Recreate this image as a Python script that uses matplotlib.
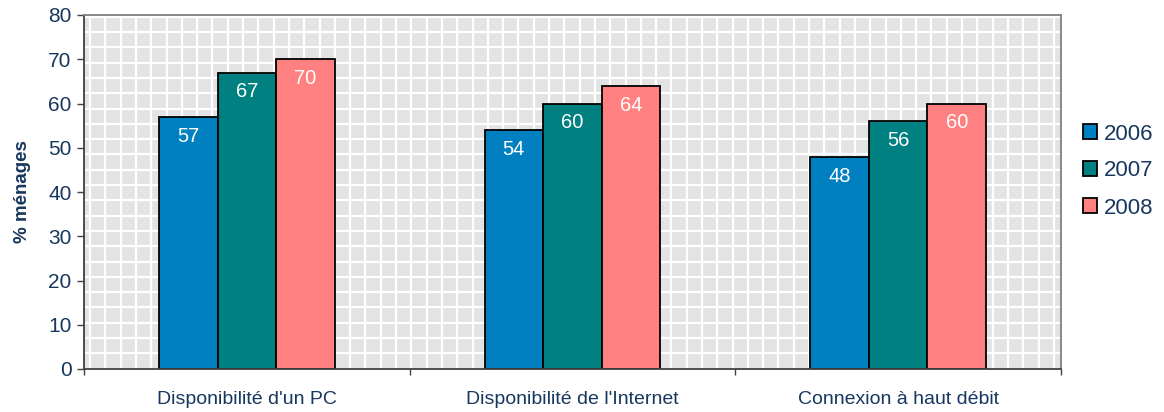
import matplotlib
matplotlib.use("Agg")
import matplotlib.pyplot as plt
import numpy as np
from matplotlib.collections import LineCollection
from matplotlib.patches import Patch

categories = ["Disponibilité d'un PC", "Disponibilité de l'Internet", "Connexion à haut débit"]
years = ["2006", "2007", "2008"]
values_2006 = [57, 54, 48]
values_2007 = [67, 60, 56]
values_2008 = [70, 64, 60]
series = [values_2006, values_2007, values_2008]
colors = ["#0080C0", "#008080", "#FF8080"]
ytick_values = [0, 10, 20, 30, 40, 50, 60, 70, 80]

text_color = "#17375E"
plt.rcParams['font.family'] = ['Liberation Sans', 'DejaVu Sans']

W, H = 1164, 412
fig = plt.figure(figsize=(W / 100, H / 100), dpi=100)
ax_l, ax_r, ax_t, ax_b = 84, 1061, 15, 369
ax = fig.add_axes([ax_l / W, 1 - ax_b / H, (ax_r - ax_l) / W, (ax_b - ax_t) / H])
ax.set_facecolor("#E3E3E3")

# pattern grid (square cells in pixel space)
axw, axh = ax_r - ax_l, ax_b - ax_t
cell = 15.3
segs = []
x = 6.0
while x < axw:
    segs.append([(x / axw, 0), (x / axw, 1)])
    x += cell
y = 1.7
while y < axh:
    segs.append([(0, 1 - y / axh), (1, 1 - y / axh)])
    y += cell
lc = LineCollection(segs, colors="white", linewidths=1.6, transform=ax.transAxes, zorder=0.5)
ax.add_collection(lc, autolim=False)

xpos = np.arange(len(categories))
bw = 0.18
for i, (vals, col) in enumerate(zip(series, colors)):
    offs = (i - 1) * bw
    ax.bar(xpos + offs, vals, width=bw, color=col, edgecolor="black", linewidth=1.3, zorder=2, label=years[i])
    for xx, v in zip(xpos + offs, vals):
        ax.annotate(str(v), (xx, v), xytext=(0, -14), textcoords="offset points",
                    ha="center", va="center", color="white", fontsize=14.5, zorder=3)

ax.set_xlim(-0.5, 2.5)
ax.set_ylim(0, 80)
ax.set_yticks(ytick_values)
ax.set_xticks(xpos)
ax.set_xticklabels(categories)
ax.set_xticks([-0.5, 0.5, 1.5, 2.5], minor=True)
ax.tick_params(axis="x", which="major", length=0, pad=16, labelsize=14, labelcolor=text_color)
ax.tick_params(axis="x", which="minor", length=4, width=1, color="#404040", direction="out")
ax.tick_params(axis="y", which="major", length=5, width=1, color="#404040", direction="out",
               labelsize=15, labelcolor=text_color, pad=4)
ax.set_ylabel("% ménages", fontsize=13.5, fontweight="bold", color=text_color, labelpad=12)

for s in ["left", "bottom"]:
    ax.spines[s].set_color("#404040")
    ax.spines[s].set_linewidth(1.3)
for s in ["top", "right"]:
    ax.spines[s].set_color("#808080")
    ax.spines[s].set_linewidth(1.3)

handles = [Patch(facecolor=c, edgecolor="black", linewidth=1.3) for c in colors]
leg = fig.legend(handles, years, loc="center left", bbox_to_anchor=(1083 / W, 1 - 171 / H),
                 frameon=False, fontsize=16, handlelength=0.62, handleheight=0.62,
                 handletextpad=0.3, labelspacing=0.72, borderpad=0, borderaxespad=0)
for t in leg.get_texts():
    t.set_color(text_color)

fig.savefig("out.png", dpi=100)
